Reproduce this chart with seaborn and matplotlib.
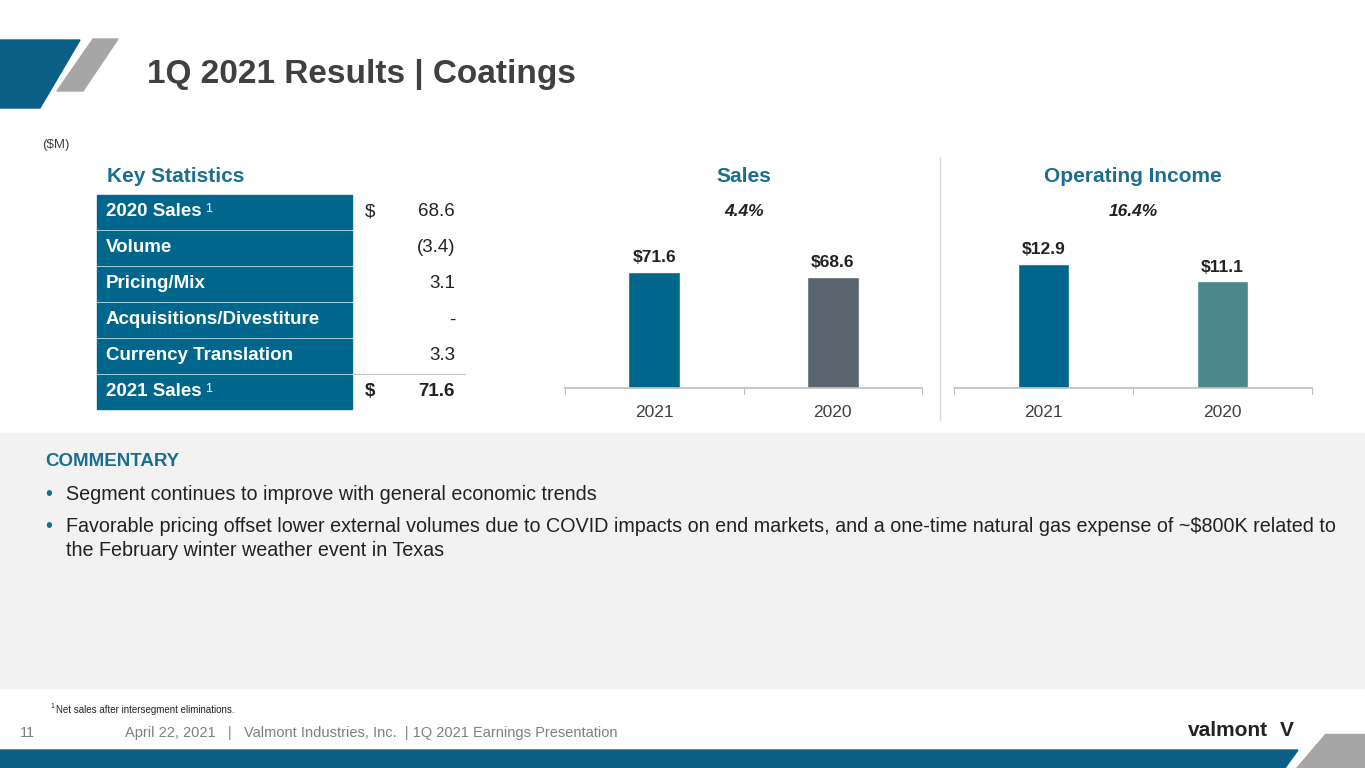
import numpy as np
import pandas as pd
import seaborn as sns
import matplotlib.pyplot as plt
from matplotlib.patches import Polygon, Rectangle

sns.set_theme(style="white")
plt.rcParams['font.family'] = ['Liberation Sans', 'DejaVu Sans']

# data
years = ["2021", "2020"]
sales = [71.6, 68.6]
op_income = [12.9, 11.1]
sales_growth = "4.4%"
oi_growth = "16.4%"
stat_labels = ["2020 Sales", "Volume", "Pricing/Mix", "Acquisitions/Divestiture",
               "Currency Translation", "2021 Sales"]
stat_values = ["68.6", "(3.4)", "3.1", "-", "3.3", "71.6"]

BLUE = "#00668C"
TITLE_BLUE = "#1A6F90"
DARK = "#404040"

W, H = 1365, 768
fig = plt.figure(figsize=(W / 100, H / 100), dpi=100)

# overlay in pixel coordinates
bg = fig.add_axes([0, 0, 1, 1])
bg.set_xlim(0, W)
bg.set_ylim(H, 0)
bg.axis("off")

bg.add_patch(Rectangle((0, 433), W, 255, color="#F2F2F2", zorder=0))
bg.add_patch(Polygon([(0, 40), (80, 40), (40, 108), (0, 108)], color="#0B5F86"))
bg.add_patch(Polygon([(93, 39), (118, 39), (83, 91), (57, 91)], color="#A6A6A6"))
bg.add_patch(Polygon([(0, 750), (1298, 750), (1285, 768), (0, 768)], color="#0B5F86"))
bg.add_patch(Polygon([(1325, 734), (W, 734), (W, 768), (1296, 768)], color="#A6A6A6"))

bg.text(147, 75, "1Q 2021 Results | Coatings", fontsize=24, fontweight="bold",
        color=DARK, va="center")
bg.text(42, 145, "($M)", fontsize=9.5, color=DARK, va="center")

# key statistics table
bg.text(107, 177, "Key Statistics", fontsize=15, fontweight="bold", color=TITLE_BLUE, va="center")
for i, (lab, val) in enumerate(zip(stat_labels, stat_values)):
    y0 = 195 + i * 36
    bg.add_patch(Rectangle((97, y0), 255, 34, color=BLUE))
    bg.text(106, y0 + 17, lab, fontsize=13.5, fontweight="bold", color="white", va="center")
    if lab.endswith("Sales"):
        bg.text(205, y0 + 14, "1", fontsize=9, color="white", va="center")
    bold = i == len(stat_labels) - 1
    bg.text(455, y0 + 17, val, fontsize=13.5, color="#222222", va="center", ha="right",
            fontweight="bold" if bold else "normal")
    if i in (0, 5):
        bg.text(365, y0 + 17, "$", fontsize=13.5, color="#222222", va="center",
                fontweight="bold" if bold else "normal")
bg.plot([352, 465], [374, 374], color="#BFBFBF", lw=0.8)

# separator
bg.plot([940, 940], [157, 420], color="#D9D9D9", lw=1)


def bar_panel(rect, vals, colors, ymax, title, growth, tx):
    ax = fig.add_axes(rect)
    df = pd.DataFrame({"year": years, "val": vals})
    sns.barplot(data=df, x="year", y="val", hue="year", palette=colors, legend=False,
                width=0.29, saturation=1, ax=ax)
    ax.set_ylim(0, ymax)
    ax.set_xlim(-0.5, 1.5)
    ax.set_xlabel("")
    ax.set_ylabel("")
    ax.set_yticks([])
    for s in ["top", "left", "right"]:
        ax.spines[s].set_visible(False)
    ax.spines["bottom"].set_color("#BFBFBF")
    ax.tick_params(axis="x", length=0, labelsize=12.5, colors=DARK, pad=12)
    ax.patch.set_alpha(0)
    for i, v in enumerate(vals):
        ax.text(i, v + ymax * 0.035, f"${v}", ha="center", va="bottom",
                fontsize=12.5, fontweight="bold", color="#222222")
    ax.set_xticks([0, 1], years)
    for xv in (-0.5, 0.5, 1.5):
        ax.plot([xv, xv], [0, -ymax * 0.03], color="#BFBFBF", lw=0.8, clip_on=False)
    bg.text(tx, 177, title, fontsize=15, fontweight="bold", color=TITLE_BLUE,
            va="center", ha="center")
    bg.text(tx, 212, growth, fontsize=12.5, fontweight="bold", style="italic",
            color="#222222", va="center", ha="center")
    return ax


bar_panel([565 / W, (H - 388) / H, 357 / W, 188 / H], sales, [BLUE, "#5A6570"],
          116, "Sales", sales_growth, 744)
bar_panel([954 / W, (H - 388) / H, 358 / W, 188 / H], op_income, [BLUE, "#4E878C"],
          19.56, "Operating Income", oi_growth, 1133)

# commentary
FS = 14.2
bg.text(45, 462, "COMMENTARY", fontsize=13.5, fontweight="bold", color=TITLE_BLUE, va="center")
bg.text(45, 494, "•", fontsize=FS, color=TITLE_BLUE, va="center")
bg.text(66, 494, "Segment continues to improve with general economic trends",
        fontsize=FS, color="#222222", va="center")
bg.text(45, 527, "•", fontsize=FS, color=TITLE_BLUE, va="center")
bg.text(66, 527, "Favorable pricing offset lower external volumes due to COVID impacts on end "
        "markets, and a one-time natural gas expense of ~$800K related to",
        fontsize=FS, color="#222222", va="center")
bg.text(66, 551, "the February winter weather event in Texas", fontsize=FS,
        color="#222222", va="center")

# footer
bg.text(50, 707, "1", fontsize=5, color="#222222", va="center")
bg.text(56, 710, "Net sales after intersegment eliminations.", fontsize=7,
        color="#222222", va="center")
bg.text(20, 733, "11", fontsize=10.5, color="#7F7F7F", va="center")
bg.text(125, 733, "April 22, 2021   |   Valmont Industries, Inc.  | 1Q 2021 Earnings Presentation",
        fontsize=10.5, color="#7F7F7F", va="center")
bg.text(1188, 731, "valmont", fontsize=15, fontweight="bold", color="#222222", va="center")
bg.text(1280, 731, "V", fontsize=15, fontweight="bold", color="#222222", va="center")

fig.savefig("out.png", dpi=100)
